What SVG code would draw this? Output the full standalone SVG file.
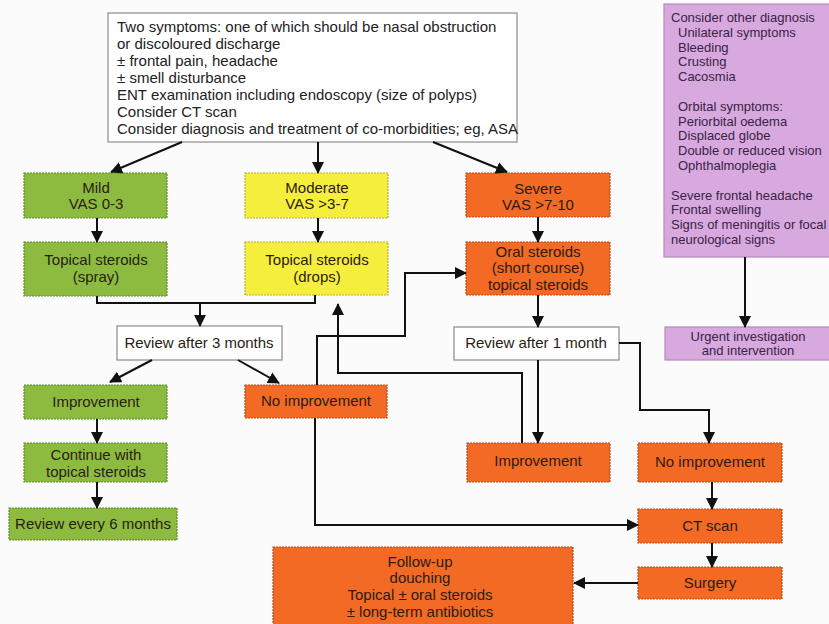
<svg xmlns="http://www.w3.org/2000/svg" width="829" height="624" viewBox="0 0 829 624">
<defs>
<marker id="ah" markerUnits="userSpaceOnUse" markerWidth="12" markerHeight="12" viewBox="0 0 12 12" refX="11" refY="6" orient="auto">
<path d="M0,0 L12,6 L0,12 Z" fill="#111"/>
</marker>
</defs>
<style>
text{font-family:"Liberation Sans",Arial,sans-serif;fill:#2a1c14;}
.c{text-anchor:middle;font-size:15px;}
.w{fill:#ffffff;stroke:#8a8a8a;stroke-width:1.2;}
.g{fill:#8dbb3f;stroke:#5f8a2e;stroke-width:1.2;stroke-dasharray:2 1;}
.y{fill:#f6ee3c;stroke:#b8ad3a;stroke-width:1.2;stroke-dasharray:2 1;}
.o{fill:#f26a24;stroke:#b84a1c;stroke-width:1.2;stroke-dasharray:2 1;}
.p{fill:#d7a9de;stroke:#b48cbb;stroke-width:1.2;}
.pt{font-size:13px;fill:#3a2244;}
.tt{font-size:15px;fill:#222;}
#conn path{fill:none;stroke:#111;stroke-width:2;}
.a{marker-end:url(#ah);}
</style>
<rect width="829" height="624" fill="#fbfbfb"/>

<g id="top">
<rect class="w" x="108" y="13" width="409" height="129"/>
<text class="tt" x="117" y="32">Two symptoms: one of which should be nasal obstruction</text>
<text class="tt" x="117" y="49">or discoloured discharge</text>
<text class="tt" x="117" y="66">± frontal pain, headache</text>
<text class="tt" x="117" y="83">± smell disturbance</text>
<text class="tt" x="117" y="100">ENT examination including endoscopy (size of polyps)</text>
<text class="tt" x="117" y="117">Consider CT scan</text>
<text class="tt" x="117" y="134">Consider diagnosis and treatment of co-morbidities; eg, ASA</text>
</g>

<g id="other">
<rect class="p" x="664" y="4" width="170" height="253"/>
<text class="pt" x="671" y="22">Consider other diagnosis</text>
<text class="pt" x="678" y="37">Unilateral symptoms</text>
<text class="pt" x="678" y="52">Bleeding</text>
<text class="pt" x="678" y="66">Crusting</text>
<text class="pt" x="678" y="81">Cacosmia</text>
<text class="pt" x="678" y="111">Orbital symptoms:</text>
<text class="pt" x="678" y="126">Periorbital oedema</text>
<text class="pt" x="678" y="140">Displaced globe</text>
<text class="pt" x="678" y="155">Double or reduced vision</text>
<text class="pt" x="678" y="170">Ophthalmoplegia</text>
<text class="pt" x="671" y="200">Severe frontal headache</text>
<text class="pt" x="671" y="214">Frontal swelling</text>
<text class="pt" x="671" y="229">Signs of meningitis or focal</text>
<text class="pt" x="671" y="244">neurological signs</text>
</g>

<g id="urgent">
<rect class="p" x="665" y="327" width="170" height="33"/>
<text class="pt c" x="748" y="341" style="font-size:13px">Urgent investigation</text>
<text class="pt c" x="748" y="355" style="font-size:13px">and intervention</text>
</g>

<g id="mild">
<rect class="g" x="24" y="173" width="143" height="45"/>
<text class="c" x="96" y="193">Mild</text>
<text class="c" x="96" y="209">VAS 0-3</text>
</g>
<g id="moderate">
<rect class="y" x="245" y="173" width="143" height="45"/>
<text class="c" x="317" y="193">Moderate</text>
<text class="c" x="317" y="209">VAS &gt;3-7</text>
</g>
<g id="severe">
<rect class="o" x="466" y="173" width="144" height="44"/>
<text class="c" x="538" y="194">Severe</text>
<text class="c" x="538" y="210">VAS &gt;7-10</text>
</g>

<g id="spray">
<rect class="g" x="24" y="242" width="143" height="54"/>
<text class="c" x="96" y="265">Topical steroids</text>
<text class="c" x="96" y="282">(spray)</text>
</g>
<g id="drops">
<rect class="y" x="245" y="242" width="143" height="53"/>
<text class="c" x="317" y="265">Topical steroids</text>
<text class="c" x="317" y="282">(drops)</text>
</g>
<g id="oral">
<rect class="o" x="466" y="242" width="144" height="53"/>
<text class="c" x="538" y="257">Oral steroids</text>
<text class="c" x="538" y="273">(short course)</text>
<text class="c" x="538" y="290">topical steroids</text>
</g>

<g id="review3">
<rect class="w" x="117" y="326" width="165" height="34"/>
<text class="c" x="199" y="348">Review after 3 months</text>
</g>
<g id="review1">
<rect class="w" x="454" y="327" width="165" height="33"/>
<text class="c" x="536" y="348">Review after 1 month</text>
</g>

<g id="improve-left">
<rect class="g" x="24" y="385" width="143" height="34"/>
<text class="c" x="96" y="407">Improvement</text>
</g>
<g id="noimprove-left">
<rect class="o" x="245" y="385" width="142" height="33"/>
<text class="c" x="316" y="406">No improvement</text>
</g>
<g id="continue">
<rect class="g" x="24" y="443" width="143" height="39"/>
<text class="c" x="96" y="460">Continue with</text>
<text class="c" x="96" y="477">topical steroids</text>
</g>
<g id="review6">
<rect class="g" x="9" y="508" width="168" height="32"/>
<text class="c" x="93" y="529">Review every 6 months</text>
</g>

<g id="improve-right">
<rect class="o" x="467" y="443" width="143" height="39"/>
<text class="c" x="538" y="466">Improvement</text>
</g>
<g id="noimprove-right">
<rect class="o" x="638" y="443" width="144" height="39"/>
<text class="c" x="710" y="467">No improvement</text>
</g>
<g id="ct">
<rect class="o" x="638" y="509" width="144" height="34"/>
<text class="c" x="710" y="531">CT scan</text>
</g>
<g id="surgery">
<rect class="o" x="638" y="567" width="144" height="32"/>
<text class="c" x="710" y="588">Surgery</text>
</g>
<g id="followup">
<rect class="o" x="273" y="547" width="300" height="80"/>
<text class="c" x="420" y="567">Follow-up</text>
<text class="c" x="420" y="583">douching</text>
<text class="c" x="420" y="600">Topical ± oral steroids</text>
<text class="c" x="420" y="617">± long-term antibiotics</text>
</g>

<g id="conn">
<path class="a" d="M182,142 L111,172"/>
<path class="a" d="M318,142 V173"/>
<path class="a" d="M433,142 L507,172"/>
<path class="a" d="M97,218 V242"/>
<path class="a" d="M318,218 V242"/>
<path class="a" d="M538,217 V242"/>
<path d="M97,296 V303 H315 V295"/>
<path class="a" d="M200,303 V326"/>
<path class="a" d="M538,295 V327"/>
<path class="a" d="M152,360 L110,382"/>
<path class="a" d="M238,360 L279,383"/>
<path class="a" d="M97,419 V443"/>
<path class="a" d="M97,482 V508"/>
<path class="a" d="M317,385 V336 H405 V273 H466"/>
<path class="a" d="M315,418 V525 H638"/>
<path class="a" d="M522,443 V373 H338 V304"/>
<path class="a" d="M538,360 V443"/>
<path class="a" d="M619,343 H640 V410 H709 V443"/>
<path class="a" d="M712,482 V509"/>
<path class="a" d="M712,543 V567"/>
<path class="a" d="M638,583 H574"/>
<path class="a" d="M745,257 V327"/>
</g>
</svg>
